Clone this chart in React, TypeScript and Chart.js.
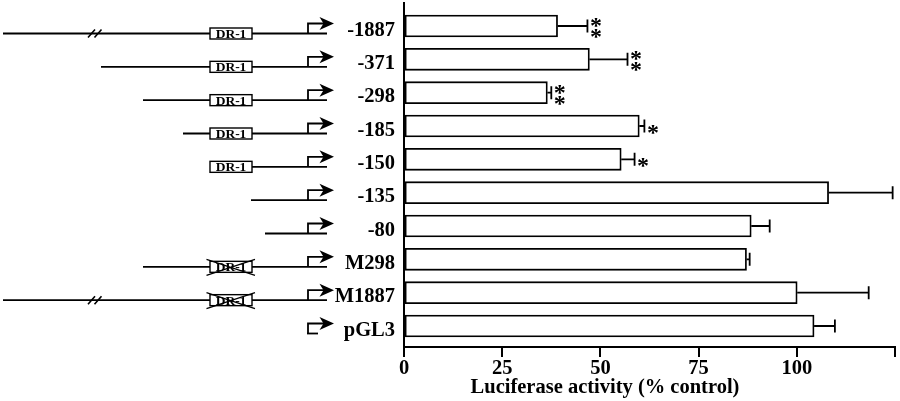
import React, { useEffect, useRef } from 'react';
import { Chart, registerables } from 'chart.js';

Chart.register(...registerables);

// ---- data ----
const constructs = ['-1887', '-371', '-298', '-185', '-150', '-135', '-80', 'M298', 'M1887', 'pGL3'];
const activity = [39.1, 47.2, 36.5, 59.9, 55.3, 108.1, 88.4, 87.2, 100.1, 104.4];
const activityError = [7.6, 9.7, 1.0, 1.3, 3.4, 16.3, 4.7, 0.8, 18.2, 5.3];
const significance = ['**', '**', '**', '*', '*', '', '', '', '', ''];
const dr1Element = ['intact', 'intact', 'intact', 'intact', 'intact', 'none', 'none', 'mutant', 'mutant', 'none'];
const hasBreak = [true, false, false, false, false, false, false, false, true, false];
const xTickValues = [0, 25, 50, 75, 100, 125];
const xTickLabels = ['0', '25', '50', '75', '100', ''];
const xTitle = 'Luciferase activity (% control)';

// ---- schematic layout (decoration, not data) ----
const SCHEMATIC_START = [3, 101, 143, 183, 210, 251, 265, 143, 3, 307];
const FONT = '"Liberation Serif", "Times New Roman", serif';

const decorPlugin = {
  id: 'decor',
  afterDatasetsDraw(chart: any) {
    const ctx = chart.ctx;
    const xs = chart.scales.x;
    const ys = chart.scales.y;
    ctx.save();
    ctx.strokeStyle = '#000';
    ctx.fillStyle = '#000';
    ctx.lineWidth = 1.8;
    for (let i = 0; i < constructs.length; i++) {
      const yc = ys.getPixelForValue(i);
      const xv = xs.getPixelForValue(activity[i]);
      const xe = xs.getPixelForValue(activity[i] + activityError[i]);
      // error bar
      ctx.beginPath();
      ctx.moveTo(xv, yc);
      ctx.lineTo(xe, yc);
      ctx.moveTo(xe, yc - 6.5);
      ctx.lineTo(xe, yc + 6.5);
      ctx.stroke();
      // significance
      const s = significance[i];
      if (s) {
        ctx.font = `bold 24px ${FONT}`;
        ctx.textAlign = 'center';
        ctx.textBaseline = 'alphabetic';
        const cx = xe + 8.5;
        const dy = 12;
        if (s.length === 2) {
          ctx.fillText('*', cx, yc - 5 + dy);
          ctx.fillText('*', cx, yc + 6 + dy);
        } else {
          ctx.fillText('*', cx, yc + 1.5 + dy);
        }
      }
    }
    ctx.restore();
  },
  afterDraw(chart: any) {
    const ctx = chart.ctx;
    const ys = chart.scales.y;
    ctx.save();
    ctx.strokeStyle = '#000';
    ctx.fillStyle = '#000';
    for (let i = 0; i < constructs.length; i++) {
      const yc = ys.getPixelForValue(i);
      // label
      ctx.font = `bold 20.5px ${FONT}`;
      ctx.textAlign = 'right';
      ctx.textBaseline = 'alphabetic';
      ctx.fillText(constructs[i], 395, yc + 9.8);

      const yl = yc + 7.5;
      const endX = i === constructs.length - 1 ? 318 : 327;
      ctx.lineWidth = 1.8;
      ctx.beginPath();
      ctx.moveTo(SCHEMATIC_START[i], yl);
      ctx.lineTo(endX, yl);
      ctx.stroke();

      if (hasBreak[i]) {
        ctx.lineWidth = 1.6;
        ctx.beginPath();
        ctx.moveTo(88, yl + 4);
        ctx.lineTo(95, yl - 4);
        ctx.moveTo(94.5, yl + 4);
        ctx.lineTo(101.5, yl - 4);
        ctx.stroke();
      }

      if (dr1Element[i] !== 'none') {
        ctx.fillStyle = '#fff';
        ctx.fillRect(210, yl - 5.5, 42, 11);
        ctx.fillStyle = '#000';
        ctx.lineWidth = 1.4;
        ctx.strokeRect(210, yl - 5.5, 42, 11);
        ctx.font = `bold 13.5px ${FONT}`;
        ctx.textAlign = 'center';
        ctx.fillText('DR-1', 231, yl + 4.5);
        if (dr1Element[i] === 'mutant') {
          ctx.lineWidth = 1.2;
          ctx.beginPath();
          ctx.moveTo(206.5, yl - 7.5);
          ctx.lineTo(255, yl + 8.5);
          ctx.moveTo(206.5, yl + 8.5);
          ctx.lineTo(255, yl - 7.5);
          ctx.stroke();
        }
      }

      // promoter arrow
      const ya = yl - 10;
      ctx.lineWidth = 1.8;
      ctx.beginPath();
      ctx.moveTo(308, yl);
      ctx.lineTo(308, ya);
      ctx.lineTo(325, ya);
      ctx.stroke();
      ctx.beginPath();
      ctx.moveTo(334, ya);
      ctx.lineTo(319.5, ya - 6.5);
      ctx.lineTo(323.5, ya);
      ctx.lineTo(319.5, ya + 6.5);
      ctx.closePath();
      ctx.fill();
    }

    // x-axis title
    ctx.font = `bold 20.5px ${FONT}`;
    ctx.textAlign = 'center';
    ctx.textBaseline = 'alphabetic';
    ctx.fillText(xTitle, 605, 392.5);
    ctx.restore();
  },
};

export default function App() {
  const ref = useRef<HTMLCanvasElement | null>(null);
  useEffect(() => {
    if (!ref.current) return;
    const chart = new Chart(ref.current, {
      type: 'bar',
      data: {
        datasets: [
          {
            data: activity.map((v, i) => ({ x: v, y: i })),
            backgroundColor: '#fff',
            borderColor: '#000',
            borderWidth: 1.8,
            borderSkipped: false,
            barThickness: 22,
          },
        ],
      },
      options: {
        indexAxis: 'y',
        animation: false,
        responsive: false,
        maintainAspectRatio: false,
        layout: { padding: { top: 3, right: 5, left: 0, bottom: 0 } },
        plugins: { legend: { display: false }, tooltip: { enabled: false } },
        scales: {
          x: {
            type: 'linear',
            min: 0,
            max: 125,
            offset: false,
            afterBuildTicks: (s: any) => {
              s.ticks = xTickValues.map((v) => ({ value: v }));
            },
            afterFit: (s: any) => {
              s.height = 54;
            },
            ticks: {
              color: '#000',
              font: { family: FONT, size: 20.5, weight: 'bold' },
              padding: -1,
              maxRotation: 0,
              autoSkip: false,
              callback: (_v: any, i: number) => xTickLabels[i],
            },
            grid: { drawOnChartArea: false, drawTicks: true, tickLength: 10, color: '#000', lineWidth: 2 },
            border: { display: true, color: '#000', width: 2 },
          },
          y: {
            type: 'linear',
            reverse: true,
            offset: false,
            min: -0.69,
            max: 9.63,
            afterBuildTicks: (s: any) => {
              s.ticks = constructs.map((_c, i) => ({ value: i }));
            },
            afterFit: (s: any) => {
              s.width = 404;
            },
            ticks: { display: false },
            grid: { display: false, drawTicks: false, offset: false },
            border: { display: true, color: '#000', width: 2 },
          },
        },
      },
      plugins: [decorPlugin],
    } as any);
    return () => chart.destroy();
  }, []);
  return (
    <div style={{ position: 'absolute', left: 0, top: 0, width: 900, height: 401, background: '#fff' }}>
      <canvas ref={ref} width={900} height={401} style={{ width: 900, height: 401, display: 'block' }} />
    </div>
  );
}
